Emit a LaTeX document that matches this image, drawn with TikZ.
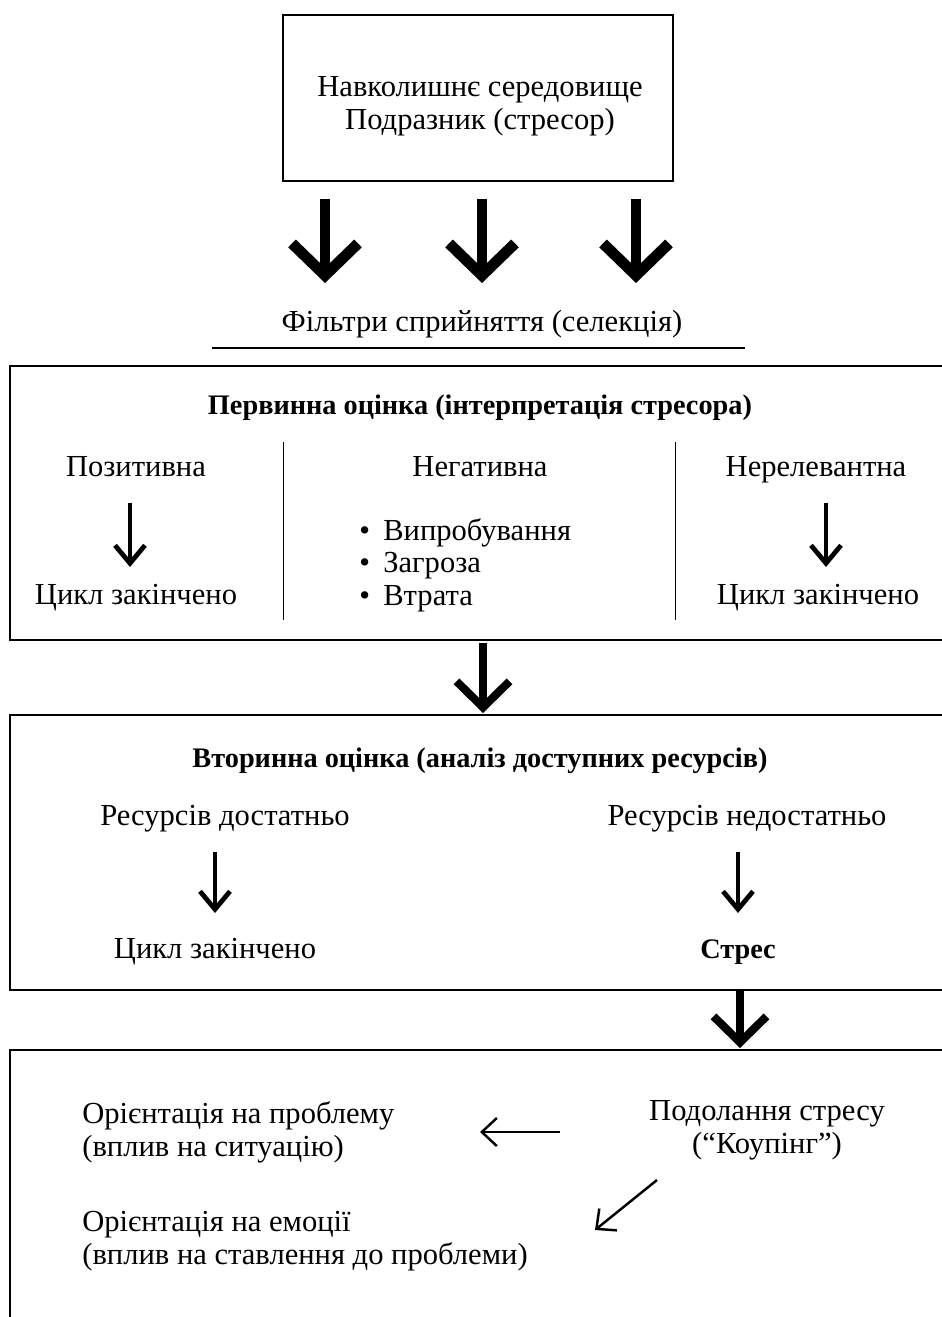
\documentclass[tikz,border=0pt]{standalone}
\usepackage{fontspec}
\setmainfont{Liberation Serif}
\usetikzlibrary{arrows.meta}

\begin{document}
\begin{tikzpicture}[x=0.02cm,y=-0.02cm,
  txt/.style={font=\fontsize{17.4}{18.8}\selectfont, inner sep=0pt, align=center},
  oneline/.style={txt, text height=12pt, text depth=0.2pt},
  bold/.style={oneline, font=\fontsize{16.1}{18.8}\selectfont\bfseries},
  box/.style={draw, line width=0.8pt, inner sep=0pt},
  bigarrow/.style={line width=6.2pt, -{Straight Barb[length=0.64cm,width=1.32cm]}},
  midarrow/.style={line width=4.6pt, -{Straight Barb[length=0.52cm,width=1.06cm]}},
  smallarrow/.style={line width=2.7pt, -{Straight Barb[length=0.36cm,width=0.6cm]}},
  thinarrow/.style={line width=1.4pt, -{Straight Barb[length=0.3cm,width=0.56cm]}}]
\useasboundingbox (0,0) rectangle (941,1317);

% stressor
\node[box, minimum width=7.8cm, minimum height=3.32cm] (envbox) at (478,98) {};
\node[txt] (env) at (480,106) {Навколишнє середовище\\Подразник (стресор)};

% filters
\node[oneline] (filter) at (482,321) {Фільтри сприйняття (селекція)};
\draw[line width=0.8pt] (212,348) -- (745,348);
\coordinate (f1) at (325,199);
\coordinate (f2) at (482,199);
\coordinate (f3) at (636,199);
\coordinate (g1) at (325,283);
\coordinate (g2) at (482,283);
\coordinate (g3) at (636,283);
\draw[bigarrow] (f1) -- (g1);
\draw[bigarrow] (f2) -- (g2);
\draw[bigarrow] (f3) -- (g3);

% primary appraisal
\node[box, minimum width=19cm, minimum height=5.48cm] (primbox) at (485,503) {};
\node[bold] (prim) at (480,404) {Первинна оцінка (інтерпретація стресора)};
\draw[line width=0.5pt] (283,442) -- (283,620);
\draw[line width=0.5pt] (675,442) -- (675,620);
\node[oneline] (pos) at (136,466) {Позитивна};
\node[oneline] (neg) at (480,466) {Негативна};
\node[oneline] (irr) at (816,466) {Нерелевантна};
\node[oneline] (posend) at (136,594) {Цикл закінчено};
\node[oneline] (irrend) at (818,594) {Цикл закінчено};
\node[txt, align=left, anchor=west, font=\fontsize{17.4}{18.4}\selectfont] (negl) at (359,565)
  {\makebox[0.48cm][l]{\textbullet}Випробування\\\makebox[0.48cm][l]{\textbullet}Загроза\\\makebox[0.48cm][l]{\textbullet}Втрата};
\coordinate (p1) at (130,503);
\coordinate (p2) at (130,567);
\coordinate (r1) at (826,503);
\coordinate (r2) at (826,567);
\draw[smallarrow] (p1) -- (p2);
\draw[smallarrow] (r1) -- (r2);

\coordinate (m1) at (483,643);
\coordinate (m2) at (483,713);
\draw[midarrow] (m1) -- (m2);

% secondary appraisal
\node[box, minimum width=19cm, minimum height=5.5cm] (secbox) at (485,852.5) {};
\node[bold] (sec) at (480,757) {Вторинна оцінка (аналіз доступних ресурсів)};
\node[oneline] (enough) at (225,815) {Ресурсів достатньо};
\node[oneline] (notenough) at (747,815) {Ресурсів недостатньо};
\node[oneline] (secend) at (215,948) {Цикл закінчено};
\node[bold] (stress) at (738,948) {Стрес};
\coordinate (s1) at (215,852);
\coordinate (s2) at (215,913);
\coordinate (t1) at (738,852);
\coordinate (t2) at (738,913);
\draw[smallarrow] (s1) -- (s2);
\draw[smallarrow] (t1) -- (t2);

\coordinate (n1) at (740,990);
\coordinate (n2) at (740,1048);
\draw[midarrow] (n1) -- (n2);

% coping
\node[box, minimum width=19cm, minimum height=5.8cm] (copbox) at (485,1195) {};
\node[txt] (coping) at (767,1130) {Подолання стресу\\(“Коупінг”)};
\node[txt, align=left, anchor=west] (problem) at (82,1132) {Орієнтація на проблему\\(вплив на ситуацію)};
\node[txt, align=left, anchor=west] (emotion) at (82,1241) {Орієнтація на емоції\\(вплив на ставлення до проблеми)};
\coordinate (c1) at (560,1132);
\coordinate (c2) at (480,1132);
\coordinate (d1) at (657,1180);
\coordinate (d2) at (595,1230);
\draw[thinarrow] (c1) -- (c2);
\draw[thinarrow] (d1) -- (d2);
\end{tikzpicture}
\end{document}
